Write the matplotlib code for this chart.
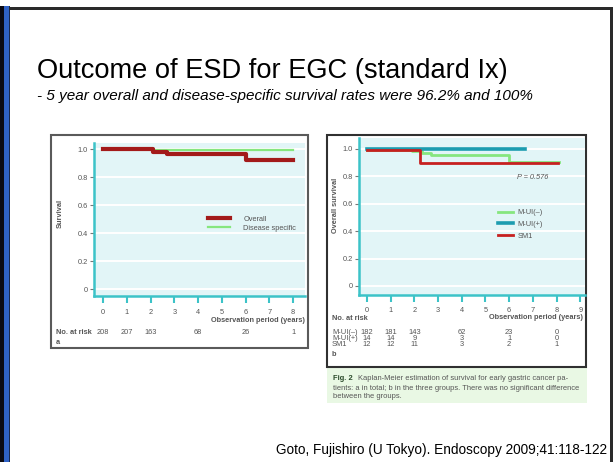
import matplotlib
matplotlib.use('Agg')
import matplotlib.pyplot as plt
from matplotlib import font_manager
from matplotlib.transforms import blended_transform_factory
from matplotlib.patches import Rectangle

W, H = 613, 462

# survival curves, panel a (all patients)
years_overall = [0, 2.1, 2.7, 6.0, 8.0]
surv_overall = [1.0, 0.976, 0.962, 0.921, 0.921]
years_disease = [0, 2.1, 8.0]
surv_disease = [1.0, 0.992, 0.992]

risk_years_a = [0, 1, 2, 4, 6, 8]
risk_a = [208, 207, 163, 68, 26, 1]

# panel b (three groups)
years_mul_neg = [0, 1.9, 2.3, 2.7, 6.0, 8.1]
surv_mul_neg = [0.99, 0.982, 0.97, 0.956, 0.907, 0.907]
years_mul_pos = [0, 6.67]
surv_mul_pos = [1.0, 1.0]
years_sm1 = [0, 2.24, 8.06]
surv_sm1 = [0.99, 0.896, 0.896]

risk_years_b = [0, 1, 2, 4, 6, 8]
risk_groups = ['M-UI(–)', 'M-UI(+)', 'SM1']
risk_b = [[182, 181, 143, 62, 23, 0],
          [14, 14, 9, 3, 1, 0],
          [12, 12, 11, 3, 2, 1]]

y_ticks = [0, 0.2, 0.4, 0.6, 0.8, 1.0]
y_tick_labels = ['0', '0.2', '0.4', '0.6', '0.8', '1.0']

BG = '#e2f5f7'
SPINE = '#3cc3c8'
TXT = '#555555'
SLIDE_FONT = ['Liberation Sans', 'DejaVu Sans']

# narrow face for the journal figure text, if one is installed
installed = {f.name for f in font_manager.fontManager.ttflist}
narrow = [n for n in ['Liberation Sans Narrow', 'DejaVu Sans Condensed'] if n in installed]
PANEL_FONT = narrow + ['Liberation Sans']
FS = 6 if narrow else 5.3


def box(x0, y0, x1, y1):
    return [x0 / W, 1 - y1 / H, (x1 - x0) / W, (y1 - y0) / H]


fig = plt.figure(figsize=(W / 100, H / 100), dpi=100)

# slide background in pixel coordinates
bg = fig.add_axes([0, 0, 1, 1])
bg.set_xlim(0, W)
bg.set_ylim(H, 0)
bg.axis('off')

# slide frame
bg.add_patch(Rectangle((0, 6), 4, H, color='#0a0a14', lw=0))
bg.add_patch(Rectangle((4, 6), 5, H, color='#2f62c6', lw=0))
bg.add_patch(Rectangle((9, 6), 1, H, color='#1a2a50', lw=0))
bg.add_patch(Rectangle((9, 7), W, 3, color='#2a2a2a', lw=0))
bg.add_patch(Rectangle((610, 7), 3, H, color='#2a2a2a', lw=0))

bg.text(37, 71, 'Outcome of ESD for EGC (standard Ix)', fontsize=19.6,
        family=SLIDE_FONT, va='center', ha='left', color='black')
bg.text(37, 96, '- 5 year overall and disease-specific survival rates were 96.2% and 100%',
        fontsize=11, style='italic', family=SLIDE_FONT, va='center', color='black')
bg.text(607, 450, 'Goto, Fujishiro (U Tokyo). Endoscopy 2009;41:118-122',
        fontsize=9.8, family=SLIDE_FONT, va='center', ha='right', color='black')

# panel frames and caption
bg.add_patch(Rectangle((51, 135), 257, 213, fill=False, ec='#5a5a5a', lw=1.5))
bg.add_patch(Rectangle((327, 367), 260, 36, color='#e9f8e4', lw=0))
bg.add_patch(Rectangle((327, 135), 259, 232, fill=False, ec='#303030', lw=1.5))

cap_fs = 5.4
bg.text(333, 379, 'Fig. 2', fontsize=cap_fs, weight='bold', family=PANEL_FONT,
        va='center', color='#2a4a2a')
bg.text(358, 379, 'Kaplan-Meier estimation of survival for early gastric cancer pa-',
        fontsize=cap_fs, family=PANEL_FONT, va='center', color=TXT)
bg.text(333, 388, 'tients: a in total; b in the three groups. There was no significant difference',
        fontsize=cap_fs, family=PANEL_FONT, va='center', color=TXT)
bg.text(333, 397, 'between the groups.', fontsize=cap_fs, family=PANEL_FONT,
        va='center', color=TXT)


def style_axes(ax):
    ax.set_facecolor(BG)
    for s in ['top', 'right']:
        ax.spines[s].set_visible(False)
    for s in ['left', 'bottom']:
        ax.spines[s].set_color(SPINE)
        ax.spines[s].set_linewidth(1.8)
    ax.set_yticks(y_ticks)
    ax.set_yticklabels(y_tick_labels)
    ax.grid(axis='y', color='white', lw=1.4)
    ax.set_axisbelow(True)
    ax.tick_params(axis='x', colors=SPINE, length=5, width=1.5, labelcolor=TXT,
                   labelsize=FS, pad=4)
    ax.tick_params(axis='y', colors='#777777', length=3, width=0.8, labelcolor=TXT,
                   labelsize=FS, pad=1.5)
    for lab in ax.get_xticklabels() + ax.get_yticklabels():
        lab.set_family(PANEL_FONT)


# panel a
ax1 = fig.add_axes(box(94, 143, 305, 296))
style_axes(ax1)
ax1.step(years_disease, surv_disease, where='post', color='#86e67e', lw=1.6,
         label='Disease specific', zorder=3)
ax1.step(years_overall, surv_overall, where='post', color='#a31a1a', lw=3,
         label='Overall', zorder=4)
ax1.set_xlim(-0.38, 8.5)
ax1.set_ylim(-0.05, 1.043)
ax1.set_xticks(range(9))
ax1.set_ylabel('Survival', fontsize=FS, weight='bold', family=PANEL_FONT, color=TXT,
               va='center')
ax1.yaxis.set_label_coords(-0.161, 0.542)
ax1.set_xlabel('Observation period (years)', fontsize=FS, weight='bold',
               family=PANEL_FONT, color=TXT, ha='right', va='center')
ax1.xaxis.set_label_coords(1.0, -0.163)
h, l = ax1.get_legend_handles_labels()
ax1.legend(h[::-1], l[::-1], loc='upper left', bbox_to_anchor=(0.54, 0.525),
           frameon=False, handlelength=3.0, handletextpad=1.8,
           labelspacing=0.25, borderpad=0, borderaxespad=0,
           prop={'family': PANEL_FONT, 'size': FS})
for t in ax1.get_legend().get_texts():
    t.set_color(TXT)

tr1 = blended_transform_factory(ax1.transData, bg.transData)
bg.text(56, 333, 'No. at risk', fontsize=FS, weight='bold', family=PANEL_FONT,
        va='center', color=TXT)
bg.text(56, 342, 'a', fontsize=FS, weight='bold', family=PANEL_FONT,
        va='center', color=TXT)
for yr, n in zip(risk_years_a, risk_a):
    bg.text(yr, 333, str(n), transform=tr1, fontsize=FS, family=PANEL_FONT,
            ha='center', va='center', color=TXT)

# panel b
ax2 = fig.add_axes(box(359, 138, 585, 295))
style_axes(ax2)
ax2.step(years_mul_neg, surv_mul_neg, where='post', color='#86e67e', lw=2,
         label='M-UI(–)', zorder=3)
ax2.step(years_mul_pos, surv_mul_pos, where='post', color='#1c9cb0', lw=2.6,
         label='M-UI(+)', zorder=4)
ax2.step(years_sm1, surv_sm1, where='post', color='#c62020', lw=2,
         label='SM1', zorder=5)
ax2.set_xlim(-0.338, 9.2)
ax2.set_ylim(-0.066, 1.08)
ax2.set_xticks(range(10))
ax2.set_ylabel('Overall survival', fontsize=FS, weight='bold', family=PANEL_FONT,
               color=TXT, va='center')
ax2.yaxis.set_label_coords(-0.106, 0.573)
ax2.set_xlabel('Observation period (years)', fontsize=FS, weight='bold',
               family=PANEL_FONT, color=TXT, ha='right', va='center')
ax2.xaxis.set_label_coords(0.991, -0.146)
ax2.text(6.35, 0.79, 'P = 0.576', fontsize=FS, style='italic', family=PANEL_FONT,
         va='center', color=TXT)
ax2.legend(loc='upper left', bbox_to_anchor=(0.615, 0.548), frameon=False,
           handlelength=2.0, handletextpad=0.7, labelspacing=0.65, borderpad=0,
           borderaxespad=0, prop={'family': PANEL_FONT, 'size': FS})
for t in ax2.get_legend().get_texts():
    t.set_color(TXT)

tr2 = blended_transform_factory(ax2.transData, bg.transData)
bg.text(332, 318, 'No. at risk', fontsize=FS, weight='bold', family=PANEL_FONT,
        va='center', color=TXT)
row_y = [333, 338.5, 344]
risk_fs = 5.4
for name, counts, ry in zip(risk_groups, risk_b, row_y):
    bg.text(332, ry, name, fontsize=risk_fs, family=PANEL_FONT, va='center', color=TXT)
    for yr, n in zip(risk_years_b, counts):
        bg.text(yr, ry, str(n), transform=tr2, fontsize=risk_fs, family=PANEL_FONT,
                ha='center', va='center', color=TXT)
bg.text(332, 355, 'b', fontsize=FS, weight='bold', family=PANEL_FONT,
        va='center', color=TXT)

fig.savefig('out.png', dpi=100)
